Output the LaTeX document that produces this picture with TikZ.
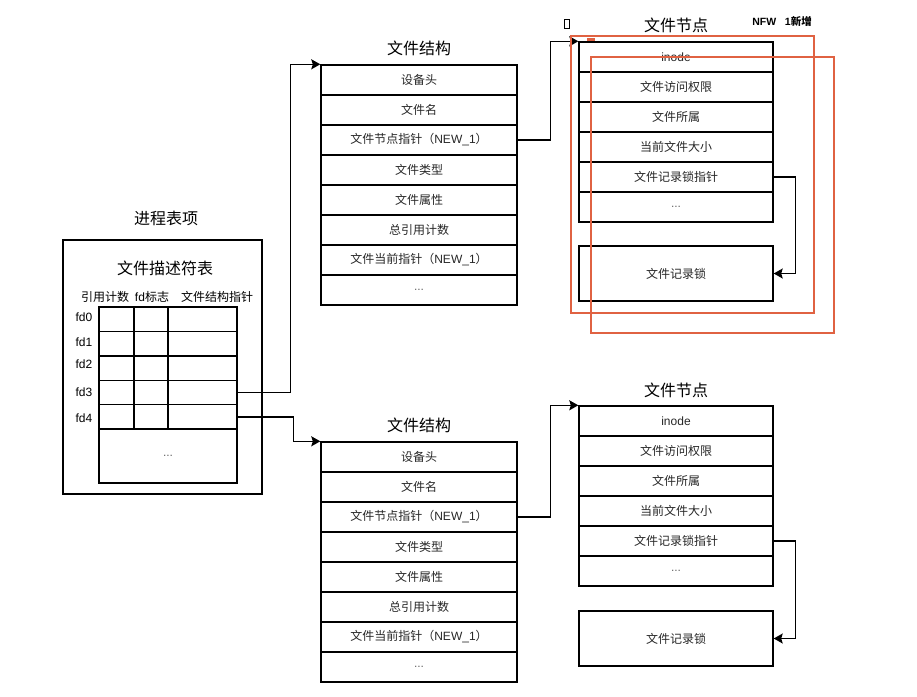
\documentclass[tikz,border=0pt]{standalone}
\usepackage{fontspec}
\setmainfont{Noto Sans CJK SC}
\newfontfamily\lat{Liberation Sans}
\usetikzlibrary{arrows.meta}
\definecolor{markred}{RGB}{224,98,66}
% ellipsis used inside cells (kept as a macro so \foreach lists stay plain)
\newcommand\celldots{\textcolor{black!60}{\lat ...}}
\newcommand\newone{{\lat NEW\_1}}
\begin{document}
\begin{tikzpicture}[x=1pt,y=-1pt,
  cell/.style={draw=black, line width=1.4pt, inner sep=0pt,
    font=\fontsize{12}{14}\selectfont, text=black!85},
  rowcell/.style={cell, minimum width=194pt, minimum height=30pt},
  fdcell/.style={draw=black, line width=1.4pt, inner sep=0pt},
  title/.style={font=\fontsize{16}{18}\selectfont, inner sep=0pt},
  small/.style={font=\fontsize{12}{14}\selectfont, inner sep=0pt},
  link/.style={draw=black, line width=1.4pt,
    -{Stealth[length=9pt,width=10pt,inset=1.5pt]}},
  redline/.style={draw=markred, line width=2pt}]
\useasboundingbox (0,0) rectangle (917,696);

% ---------- process table entry ----------
\node[title] (ptitle) at (166,218) {进程表项};
\node[draw=black, line width=1.4pt, minimum width=199pt, minimum height=254pt,
      inner sep=0pt] (proc) at (162.5,367) {};
\node[title] (fdtitle) at (165,268) {文件描述符表};
\node[small] (hcount) at (105,297) {引用计数};
\node[small] (hflag)  at (152,297) {{\lat fd}标志};
\node[small] (hptr)   at (217,297) {文件结构指针};

% descriptor rows fd0..fd4
\foreach \i in {0,1,2,3,4}{
  \pgfmathsetmacro\yc{319.2+24.4*\i}
  \node[fdcell, minimum width=35pt, minimum height=24.4pt] (fd\i a) at (116.5,\yc) {};
  \node[fdcell, minimum width=34pt, minimum height=24.4pt] (fd\i b) at (151,\yc) {};
  \node[fdcell, minimum width=69pt, minimum height=24.4pt] (fd\i c) at (202.5,\yc) {};
}
\node[fdcell, minimum width=138pt, minimum height=54pt, small] (fdmore) at (168,456) {\celldots};
\node[small, font=\lat\fontsize{12}{14}\selectfont] (l0) at (84,317) {fd0};
\node[small, font=\lat\fontsize{12}{14}\selectfont] (l1) at (84,342) {fd1};
\node[small, font=\lat\fontsize{12}{14}\selectfont] (l2) at (84,364) {fd2};
\node[small, font=\lat\fontsize{12}{14}\selectfont] (l3) at (84,392) {fd3};
\node[small, font=\lat\fontsize{12}{14}\selectfont] (l4) at (84,418) {fd4};

% ---------- file structures ----------
\node[title] (ftA) at (419,48) {文件结构};
\foreach \t [count=\i] in {设备头,文件名,文件节点指针（\newone）,文件类型,文件属性,总引用计数,文件当前指针（\newone）,\celldots}{
  \node[rowcell, minimum width=196pt] (fa\i) at (419,50+30*\i) {\t};
}

\node[title] (ftB) at (419,425) {文件结构};
\foreach \t [count=\i] in {设备头,文件名,文件节点指针（\newone）,文件类型,文件属性,总引用计数,文件当前指针（\newone）,\celldots}{
  \node[rowcell, minimum width=196pt] (fb\i) at (419,427+30*\i) {\t};
}

% ---------- file nodes ----------
\node[title] (ntA) at (676,25) {文件节点};
\foreach \t [count=\i] in {{\lat inode},文件访问权限,文件所属,当前文件大小,文件记录锁指针,\celldots}{
  \node[rowcell] (na\i) at (676,27+30*\i) {\t};
}
\node[rowcell, minimum height=55pt] (lockA) at (676,273.5) {文件记录锁};

\node[title] (ntB) at (676,390) {文件节点};
\foreach \t [count=\i] in {{\lat inode},文件访问权限,文件所属,当前文件大小,文件记录锁指针,\celldots}{
  \node[rowcell] (nb\i) at (676,391+30*\i) {\t};
}
\node[rowcell, minimum height=55pt] (lockB) at (676,638.5) {文件记录锁};

% ---------- pointers ----------
\draw[link] (fd3c.east) -- ++(53,0) |- (fa1.north west);
\draw[link] (fd4c.east) -- ++(56,0) |- (fb1.north west);
\draw[link] (fa3.east) -- ++(33,0) |- (na1.north west);
\draw[link] (fb3.east) -- ++(33,0) |- (nb1.north west);
\draw[link] (na5.east) -- ++(22,0) |- (lockA.east);
\draw[link] (nb5.east) -- ++(22,0) |- (lockB.east);

% ---------- change marks ----------
\draw[redline] (571,36) rectangle (814,313);
\draw[redline] (591,57) rectangle (834,333);
\fill[markred] (587,38) rectangle (595,41);
\draw[line width=1.5pt] (564.5,19.5) rectangle (569.5,28.5);
\node[font=\fontsize{10.5}{12}\selectfont\bfseries, inner sep=0pt] (newtag) at (782,21) {{\lat\bfseries NFW\ \ \ 1}新增};
\end{tikzpicture}
\end{document}
